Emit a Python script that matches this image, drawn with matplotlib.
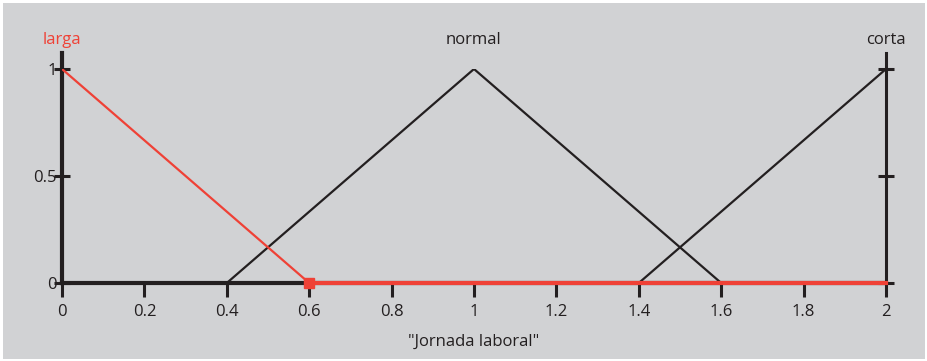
import matplotlib
matplotlib.use("Agg")
import matplotlib.pyplot as plt
from matplotlib.patches import Rectangle

# membership functions for "Jornada laboral"
larga_x = [0, 0.6, 2]
larga_y = [1, 0, 0]
normal_x = [0.4, 1, 1.6]
normal_y = [0, 1, 0]
corta_x = [1.4, 2]
corta_y = [0, 1]

set_names = ["larga", "normal", "corta"]
set_label_x = [0, 1, 2]

x_ticks = [0, 0.2, 0.4, 0.6, 0.8, 1, 1.2, 1.4, 1.6, 1.8, 2]
x_tick_labels = ["0", "0.2", "0.4", "0.6", "0.8", "1", "1.2", "1.4", "1.6", "1.8", "2"]
y_ticks = [0, 0.5, 1]
y_tick_labels = ["0", "0.5", "1"]

bg = "#d1d2d4"
ink = "#231f20"
red = "#ef4136"

plt.rcParams["font.family"] = ["Open Sans", "DejaVu Sans"]
plt.rcParams["font.size"] = 12

fig = plt.figure(figsize=(9.27, 3.61), dpi=100)
fig.patch.set_facecolor("white")
fig.add_artist(Rectangle((3 / 927, 2 / 361), 922 / 927, 356 / 361,
                         transform=fig.transFigure, facecolor=bg,
                         edgecolor="none", zorder=0))

ax = fig.add_axes([62 / 927, 78 / 361, 824 / 927, 214 / 361])
ax.set_facecolor("none")
ax.set_xlim(0, 2)
ax.set_ylim(0, 1)

for s in ["top", "right", "left"]:
    ax.spines[s].set_visible(False)
ax.spines["bottom"].set_linewidth(3)
ax.spines["bottom"].set_color(ink)

# vertical axes at both ends, extending above 1
ax.axvline(0, ymin=0, ymax=1.075, color=ink, lw=3, clip_on=False, zorder=3)
ax.axvline(2, ymin=0, ymax=1.075, color=ink, lw=2.2, clip_on=False, zorder=3)

ax.plot(normal_x, normal_y, color=ink, lw=1.6, zorder=4)
ax.plot(corta_x, corta_y, color=ink, lw=1.6, zorder=4)
ax.plot(larga_x[:2], larga_y[:2], color=red, lw=1.6, zorder=5)
ax.plot(larga_x[1:], larga_y[1:], color=red, lw=3, zorder=5, clip_on=False)
ax.plot([larga_x[1]], [larga_y[1]], marker="s", ms=7, color=red, zorder=6,
        clip_on=False)

ax.set_xticks(x_ticks)
ax.set_xticklabels(x_tick_labels)
ax.set_yticks(y_ticks)
ax.set_yticklabels(y_tick_labels)
ax.tick_params(axis="x", direction="out", length=10, width=2.2, color=ink,
               labelcolor=ink, pad=5)
ax.tick_params(axis="y", direction="inout", length=12, width=2.2, color=ink,
               labelcolor=ink, pad=-2, right=True)

for name, xv in zip(set_names, set_label_x):
    ax.text(xv, 1.135, name, ha="center", va="center",
            color=red if name == "larga" else ink, clip_on=False)

ax.set_xlabel('"Jornada laboral"', color=ink, labelpad=10)

fig.savefig("out.png", dpi=100, facecolor=fig.get_facecolor())
